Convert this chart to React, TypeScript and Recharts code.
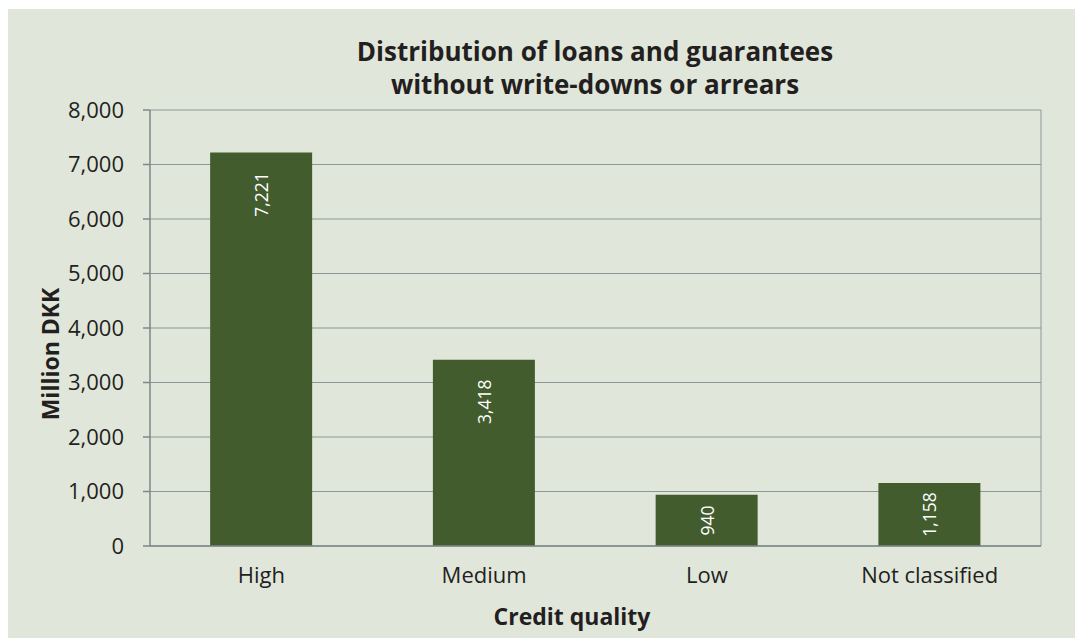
import { BarChart, Bar, XAxis, YAxis, CartesianGrid, LabelList } from 'recharts'

const categories = ['High', 'Medium', 'Low', 'Not classified']
const amounts = [7221, 3418, 940, 1158]
const yTicks = [0, 1000, 2000, 3000, 4000, 5000, 6000, 7000, 8000]
const titleLines = ['Distribution of loans and guarantees', 'without write-downs or arrears']
const xTitle = 'Credit quality'
const yTitle = 'Million DKK'

const data = categories.map((name, i) => ({ name, value: amounts[i] }))
// boundaries between categories, used for the small tick marks under the axis
const edgeTicks = [...categories.map((_, i) => i), categories.length]

const W = 1067
const H = 629
const BG = '#e1e6da'
const BAR = '#425c2e'
const GRID = '#8e9797'
const AXIS = '#7d8789'
const INK = '#231f20'
const FONT = '"Open Sans", sans-serif'

const fmt = (v: number) => v.toLocaleString('en-US')

function BarValue(props: any) {
  const { x, y, width, height, value } = props
  const cx = x + width / 2
  const cy = y + Math.min(42, height / 2)
  return (
    <text x={cx} y={cy} transform={`rotate(-90 ${cx} ${cy})`} textAnchor="middle" dominantBaseline="central"
      fill="#ffffff" fontSize={17.5} fontFamily={FONT}>
      {fmt(value)}
    </text>
  )
}

export default function App() {
  return (
    <div style={{ position: 'relative', width: W, height: H, marginLeft: 8, marginTop: 9, background: BG }}>
      <style>{`body{margin:0;overflow:hidden}`}</style>
      <BarChart width={W} height={H} data={data} margin={{ top: 101, right: 34, left: 0, bottom: 0 }}
        barCategoryGap="27%" style={{ fontFamily: FONT }}>
        <CartesianGrid stroke={GRID} strokeWidth={1} horizontal vertical
          verticalCoordinatesGenerator={({ offset }: any) => [offset.left + offset.width]} />
        <XAxis xAxisId="edges" type="number" domain={[0, categories.length]} ticks={edgeTicks} allowDataOverflow
          tick={false} axisLine={false} tickLine={{ stroke: AXIS, strokeWidth: 1.5 }} tickSize={7} height={0} />
        <XAxis dataKey="name" tickLine={false} axisLine={{ stroke: AXIS, strokeWidth: 1.5 }} tickSize={0} tickMargin={21}
          height={92} interval={0} tick={{ fill: INK, fontSize: 22, fontFamily: FONT }} />
        <YAxis domain={[0, 8000]} ticks={yTicks} tickFormatter={fmt} width={142} tickSize={7} tickMargin={19}
          axisLine={{ stroke: AXIS, strokeWidth: 1.5 }} tickLine={{ stroke: AXIS, strokeWidth: 1.5 }}
          tick={{ fill: INK, fontSize: 22, fontFamily: FONT }} />
        <Bar dataKey="value" fill={BAR} isAnimationActive={false}>
          <LabelList dataKey="value" content={BarValue} />
        </Bar>
      </BarChart>
      <svg width={W} height={H} style={{ position: 'absolute', left: 0, top: 0, pointerEvents: 'none' }}>
        {titleLines.map((t, i) => (
          <text key={t} x={587} y={52 + i * 33} textAnchor="middle" fill={INK} fontSize={26} fontWeight={700} fontFamily={FONT}>
            {t}
          </text>
        ))}
        <text x={564} y={616} textAnchor="middle" fill={INK} fontSize={23} fontWeight={700} fontFamily={FONT}>{xTitle}</text>
        <text x={51} y={345} transform="rotate(-90 51 345)" textAnchor="middle" fill={INK} fontSize={23} fontWeight={700}
          fontFamily={FONT}>{yTitle}</text>
      </svg>
    </div>
  )
}
